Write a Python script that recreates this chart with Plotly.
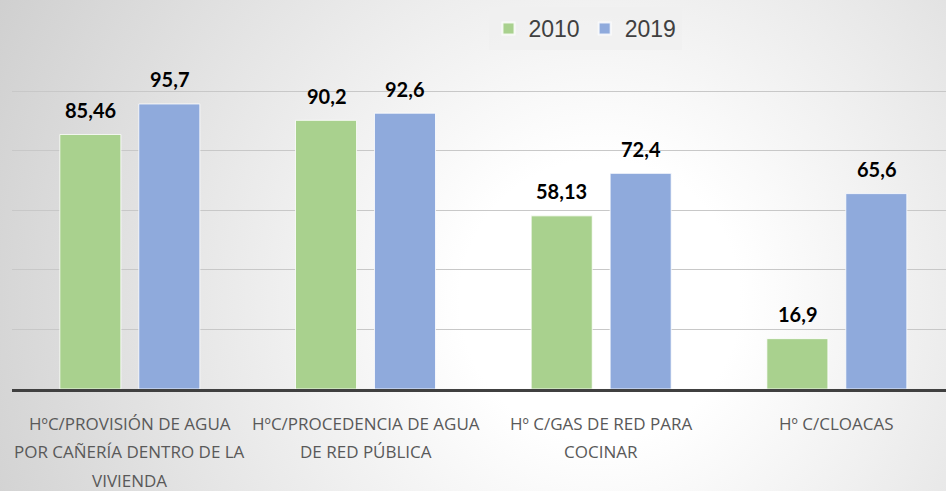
import base64
import plotly.graph_objects as go

# ---- data ----
categories = [
    "HºC/PROVISIÓN DE AGUA POR CAÑERÍA DENTRO DE LA VIVIENDA",
    "HºC/PROCEDENCIA DE AGUA DE RED PÚBLICA",
    "Hº C/GAS DE RED PARA COCINAR",
    "Hº C/CLOACAS",
]
category_lines = [
    ["HºC/PROVISIÓN DE AGUA", "POR CAÑERÍA DENTRO DE LA", "VIVIENDA"],
    ["HºC/PROCEDENCIA DE AGUA", "DE RED PÚBLICA"],
    ["Hº C/GAS DE RED PARA", "COCINAR"],
    ["Hº C/CLOACAS"],
]
series_names = ["2010", "2019"]
values_2010 = [85.46, 90.2, 58.13, 16.9]
values_2019 = [95.7, 92.6, 72.4, 65.6]


def fmt(v):
    return ("%g" % v).replace(".", ",")


W, H = 946, 491
ML, MR, MT, MB = 12, 0, 31, 102
plot_w = W - ML - MR
plot_h = H - MT - MB
cat_px = 235.67

# background radial gradient (SVG data URI)
svg = f"""<svg xmlns='http://www.w3.org/2000/svg' width='{W}' height='{H}' viewBox='0 0 {W} {H}' preserveAspectRatio='none'>
<defs><radialGradient id='g' gradientUnits='userSpaceOnUse' cx='600' cy='300' r='700'>
<stop offset='0' stop-color='#ffffff'/><stop offset='0.2' stop-color='#ffffff'/>
<stop offset='1' stop-color='#cdcdcd'/></radialGradient></defs>
<rect x='0' y='0' width='{W}' height='{H}' fill='url(#g)'/></svg>"""
bg_src = "data:image/svg+xml;base64," + base64.b64encode(svg.encode()).decode()

colors = ["#A9D18E", "#8FAADC"]
bar_w = 0.259
offsets = [-0.297, 0.038]
series_values = [values_2010, values_2019]

fig = go.Figure()
annotations = []
for name, vals, col, off in zip(series_names, series_values, colors, offsets):
    fig.add_trace(go.Bar(
        name=name, x=categories, y=vals,
        width=bar_w, offset=off,
        marker=dict(color=col, line=dict(color="rgba(255,255,255,0.8)", width=1)),
        cliponaxis=False,
    ))
    xs = (off + bar_w / 2) * cat_px
    for cat, v in zip(categories, vals):
        annotations.append(dict(
            x=cat, xref="x", y=v, yref="y", xshift=xs, yshift=24.5,
            yanchor="middle", text=fmt(v), showarrow=False,
            font=dict(family="Lato", size=20, color="#000000", weight="bold"),
        ))

for cat, lines in zip(categories, category_lines):
    for i, line in enumerate(lines):
        annotations.append(dict(
            x=cat, xref="x", y=0, yref="paper", yanchor="middle",
            yshift=-(34 + 28.5 * i), text=line, showarrow=False,
            font=dict(family="Open Sans", size=17, color="#595959"),
        ))

fig.update_layout(
    width=W, height=H,
    margin=dict(l=ML, r=MR, t=MT, b=MB, pad=0),
    paper_bgcolor="rgba(0,0,0,0)",
    plot_bgcolor="rgba(0,0,0,0)",
    barmode="group",
    showlegend=True,
    legend=dict(
        orientation="h", x=(585 - ML) / plot_w, xanchor="center",
        y=1 + (MT - 7) / plot_h, yanchor="top",
        bgcolor="rgba(240,240,240,0.85)",
        font=dict(family="Liberation Sans", size=23, color="#404040"),
        itemsizing="constant",
    ),
    xaxis=dict(
        range=[-0.5, -0.5 + plot_w / cat_px],
        showticklabels=False, showgrid=False, zeroline=False,
        showline=True, linecolor="#404040", linewidth=3,
        ticks="",
    ),
    yaxis=dict(
        range=[0, 120.2], dtick=20, showticklabels=False,
        showgrid=True, gridcolor="#c8c8c8", gridwidth=1,
        zeroline=False, showline=False, ticks="",
    ),
    annotations=annotations,
    images=[dict(
        source=bg_src, xref="paper", yref="paper",
        x=-ML / plot_w, y=1 + MT / plot_h,
        sizex=W / plot_w, sizey=H / plot_h,
        xanchor="left", yanchor="top", sizing="stretch", layer="below",
    )],
)

fig.write_html(
    "out.html",
    config={"displayModeBar": False},
    post_script="document.body.style.margin='0';document.body.style.overflow='hidden';",
)
